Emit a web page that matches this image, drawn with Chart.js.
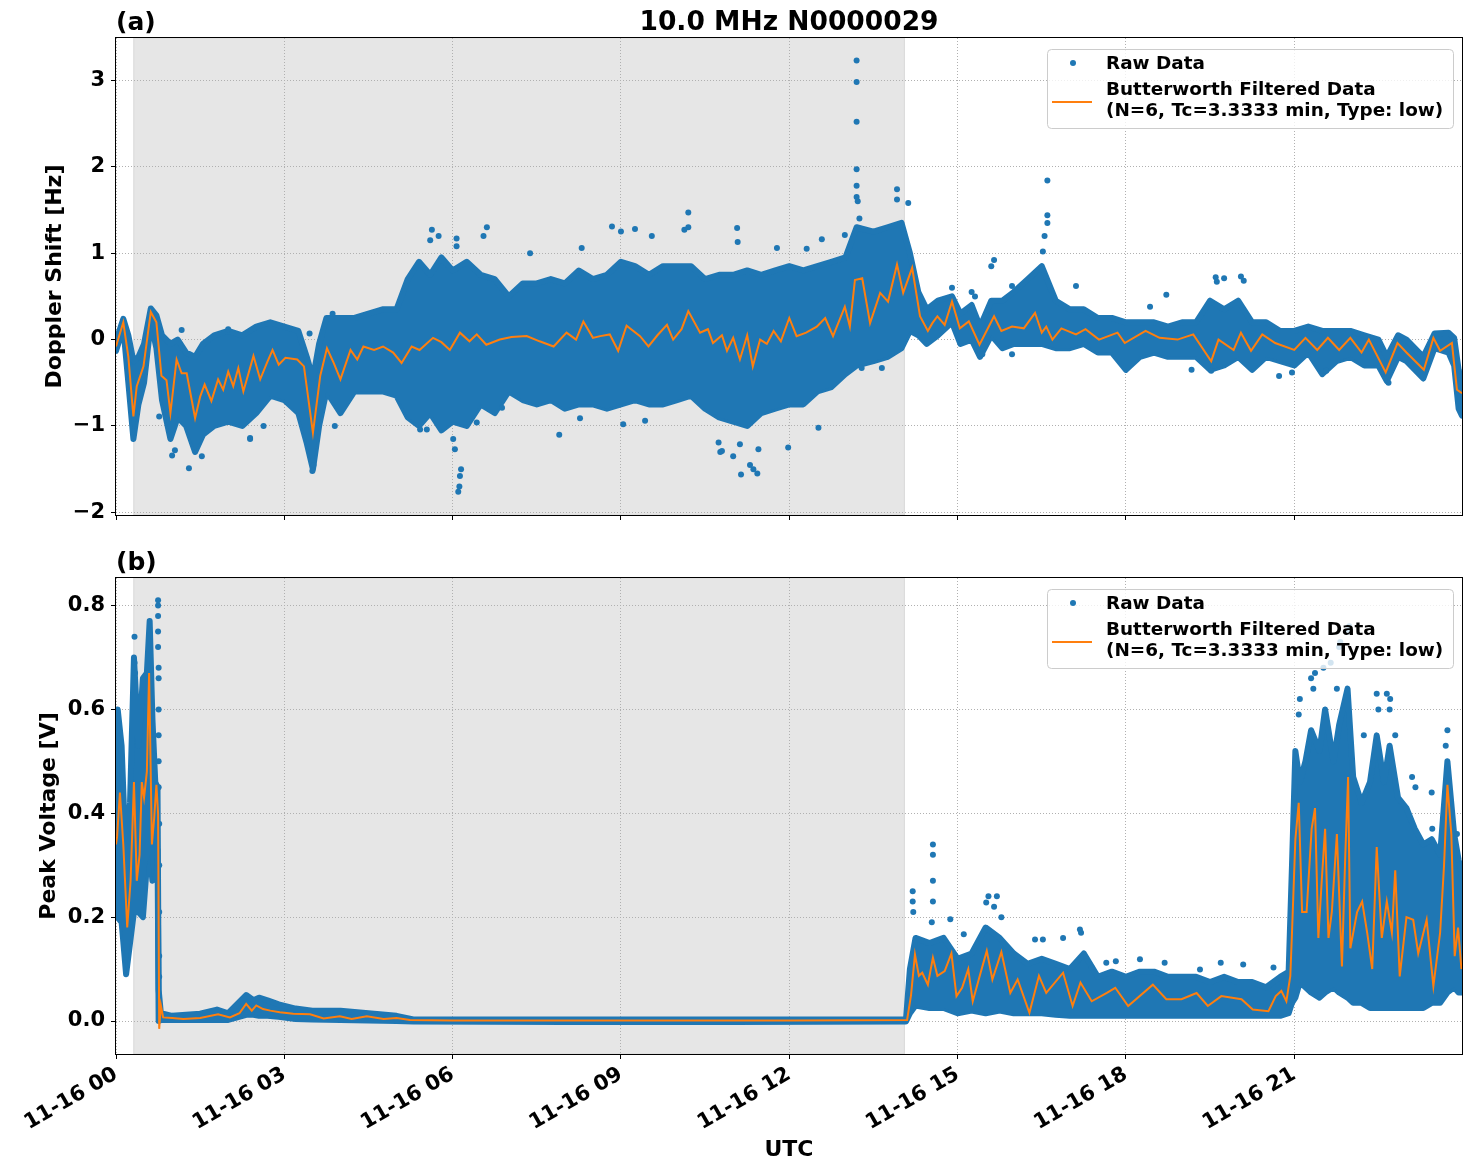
<!DOCTYPE html>
<html>
<head>
<meta charset="utf-8">
<title>10.0 MHz N0000029</title>
<script src="https://cdn.jsdelivr.net/npm/chart.js@4.4.1/dist/chart.umd.min.js"></script>
<style>
    html, body { margin: 0; padding: 0; background: #fff; }
    .panel { position: absolute; left: 0; }
    #panel-a { top: 0; }
    #panel-b { top: 540px; }
</style>
</head>
<body>
<div class="panel" id="panel-a"><canvas id="chart-a" width="1471" height="540"></canvas></div>
<div class="panel" id="panel-b"><canvas id="chart-b" width="1471" height="632"></canvas></div>
<script>
    'use strict';

    // ==========================================
    // DATA (hours after 11-16 00:00 UTC)
    // ==========================================
    const xTickHours = [0, 3, 6, 9, 12, 15, 18, 21];
    const xTickDay = '11-16';
    const shadeHours = [0.31, 14.06];

    // (a) Doppler shift
    const yTicksA = [-2, -1, 0, 1, 2, 3];
    const filtHoursA = [
        0.00, 0.13, 0.22, 0.31, 0.37, 0.49, 0.62, 0.72, 0.81, 0.90,
        0.97, 1.08, 1.17, 1.26, 1.41, 1.50, 1.58, 1.70, 1.82, 1.91,
        2.00, 2.09, 2.18, 2.27, 2.45, 2.57, 2.69, 2.79, 2.90, 3.02,
        3.23, 3.35, 3.51, 3.64, 3.76, 3.88, 4.00, 4.18, 4.30, 4.41,
        4.60, 4.76, 4.94, 5.09, 5.27, 5.41, 5.65, 5.80, 5.95, 6.13,
        6.30, 6.43, 6.60, 6.84, 7.05, 7.32, 7.55, 7.80, 8.03, 8.20,
        8.33, 8.50, 8.63, 8.80, 8.95, 9.10, 9.34, 9.49, 9.65, 9.82,
        9.93, 10.08, 10.20, 10.41, 10.55, 10.64, 10.80, 10.89, 11.00, 11.12,
        11.25, 11.35, 11.48, 11.60, 11.72, 11.85, 12.00, 12.13, 12.30, 12.49,
        12.64, 12.78, 12.99, 13.08, 13.17, 13.30, 13.44, 13.62, 13.76, 13.92,
        14.03, 14.19, 14.33, 14.47, 14.55, 14.64, 14.77, 14.90, 15.04, 15.20,
        15.39, 15.65, 15.78, 15.97, 16.18, 16.38, 16.50, 16.58, 16.69, 16.85,
        17.11, 17.28, 17.52, 17.85, 17.98, 18.35, 18.60, 18.92, 19.20, 19.52,
        19.65, 19.92, 20.05, 20.23, 20.43, 20.66, 21.00, 21.20, 21.41, 21.60,
        21.80, 22.00, 22.20, 22.33, 22.63, 22.84, 23.00, 23.31, 23.48, 23.60,
        23.81, 23.90, 23.99
    ];
    const filtA = [
        -0.08, 0.20, -0.20, -0.89, -0.54, -0.31, 0.32, 0.20, -0.42, -0.47,
        -0.85, -0.23, -0.39, -0.39, -0.91, -0.66, -0.52, -0.71, -0.46, -0.58,
        -0.37, -0.54, -0.33, -0.60, -0.19, -0.46, -0.27, -0.12, -0.29, -0.21,
        -0.23, -0.31, -1.08, -0.42, -0.10, -0.27, -0.46, -0.12, -0.23, -0.08,
        -0.12, -0.08, -0.15, -0.27, -0.08, -0.12, 0.02, -0.03, -0.12, 0.08,
        -0.02, 0.06, -0.06, 0.00, 0.03, 0.04, -0.02, -0.08, 0.08, 0.00,
        0.21, 0.02, 0.04, 0.06, -0.13, 0.16, 0.04, -0.08, 0.05, 0.17,
        0.00, 0.12, 0.33, 0.08, 0.12, -0.04, 0.05, -0.13, 0.02, -0.23,
        0.05, -0.31, 0.00, -0.05, 0.10, -0.02, 0.25, 0.04, 0.08, 0.15,
        0.25, 0.04, 0.38, 0.15, 0.69, 0.71, 0.19, 0.54, 0.44, 0.87,
        0.54, 0.83, 0.27, 0.10, 0.19, 0.27, 0.17, 0.44, 0.13, 0.21,
        -0.06, 0.27, 0.10, 0.15, 0.13, 0.31, 0.08, 0.15, 0.00, 0.13,
        0.06, 0.12, 0.00, 0.08, -0.04, 0.10, 0.02, 0.00, 0.06, -0.25,
        0.00, -0.12, 0.08, -0.13, 0.06, -0.04, -0.12, 0.02, -0.12, 0.02,
        -0.12, 0.02, -0.15, 0.00, -0.38, -0.04, -0.15, -0.35, 0.02, -0.13,
        -0.04, -0.58, -0.62
    ];
    // top / bottom edge of the dense raw-data cloud
    const bandHoursA = [
        0.00, 0.13, 0.22, 0.31, 0.40, 0.50, 0.62, 0.72, 0.82, 0.97,
        1.10, 1.25, 1.41, 1.55, 1.75, 2.00, 2.25, 2.50, 2.75, 3.00,
        3.25, 3.40, 3.51, 3.62, 3.75, 4.00, 4.25, 4.50, 4.75, 5.00,
        5.20, 5.40, 5.60, 5.80, 6.00, 6.25, 6.50, 6.75, 7.00, 7.25,
        7.50, 7.75, 8.00, 8.25, 8.50, 8.75, 9.00, 9.25, 9.50, 9.75,
        10.00, 10.25, 10.50, 10.75, 11.00, 11.25, 11.50, 11.75, 12.00, 12.25,
        12.50, 12.75, 13.00, 13.20, 13.50, 13.75, 14.00, 14.15, 14.30, 14.45,
        14.65, 14.90, 15.05, 15.25, 15.40, 15.60, 15.80, 16.00, 16.25, 16.50,
        16.75, 17.00, 17.25, 17.50, 17.75, 18.00, 18.25, 18.50, 18.75, 19.00,
        19.25, 19.50, 19.75, 20.00, 20.25, 20.50, 20.75, 21.00, 21.25, 21.50,
        21.75, 22.00, 22.25, 22.50, 22.65, 22.85, 23.00, 23.30, 23.50, 23.75,
        23.85, 23.93, 23.99
    ];
    const bandHiA = [
        -0.02, 0.24, 0.05, -0.25, -0.20, -0.05, 0.36, 0.28, 0.05, -0.05,
        0.00, -0.15, -0.20, -0.05, 0.05, 0.10, 0.05, 0.15, 0.20, 0.15,
        0.10, -0.20, -0.45, -0.05, 0.25, 0.25, 0.25, 0.30, 0.35, 0.35,
        0.70, 0.90, 0.75, 0.95, 0.80, 0.90, 0.75, 0.70, 0.50, 0.65,
        0.65, 0.70, 0.65, 0.80, 0.70, 0.75, 0.90, 0.85, 0.75, 0.85,
        0.85, 0.85, 0.70, 0.75, 0.75, 0.80, 0.75, 0.80, 0.85, 0.80,
        0.85, 0.90, 0.95, 1.30, 1.25, 1.30, 1.35, 1.00, 0.55, 0.35,
        0.45, 0.50, 0.30, 0.40, 0.15, 0.45, 0.45, 0.55, 0.70, 0.85,
        0.45, 0.35, 0.35, 0.25, 0.25, 0.20, 0.20, 0.20, 0.15, 0.20,
        0.20, 0.45, 0.35, 0.45, 0.20, 0.20, 0.10, 0.10, 0.15, 0.10,
        0.10, 0.10, 0.05, 0.00, -0.20, 0.05, 0.00, -0.20, 0.07, 0.08,
        0.02, -0.35, -0.50
    ];
    const bandLoA = [
        -0.13, 0.14, -0.50, -1.15, -0.75, -0.50, 0.20, -0.10, -0.70, -1.15,
        -0.90, -1.00, -1.30, -1.10, -1.00, -0.95, -1.00, -0.85, -0.65, -0.70,
        -0.85, -1.20, -1.50, -1.00, -0.60, -0.85, -0.60, -0.60, -0.60, -0.65,
        -0.90, -1.00, -0.85, -1.05, -0.95, -1.00, -0.75, -0.85, -0.60, -0.70,
        -0.75, -0.70, -0.80, -0.75, -0.75, -0.80, -0.75, -0.70, -0.75, -0.75,
        -0.70, -0.65, -0.80, -0.90, -0.95, -1.00, -0.85, -0.80, -0.75, -0.75,
        -0.60, -0.55, -0.40, -0.30, -0.25, -0.20, -0.10, 0.10, 0.05, -0.05,
        0.05, 0.20, -0.05, 0.00, -0.20, 0.05, -0.10, -0.05, -0.05, -0.05,
        -0.10, -0.10, -0.05, -0.15, -0.15, -0.35, -0.20, -0.15, -0.20, -0.20,
        -0.20, -0.35, -0.30, -0.20, -0.35, -0.20, -0.25, -0.30, -0.15, -0.40,
        -0.25, -0.20, -0.30, -0.30, -0.48, -0.20, -0.25, -0.45, -0.10, -0.15,
        -0.30, -0.80, -0.88
    ];
    // isolated raw points outside the cloud
    const strayHoursA = [
        13.20, 13.20, 13.20, 13.20, 13.20, 13.20, 13.22, 13.25, 13.92, 13.92,
        14.12, 16.60, 16.60, 16.60, 16.55, 1.30, 1.00, 1.05, 5.63, 5.60,
        5.75, 6.10, 6.12, 6.13, 6.15, 6.61, 6.55, 8.84, 9.00, 10.20,
        10.20, 11.07, 11.14, 11.43, 11.30, 11.00, 11.98, 10.77, 12.58, 3.50,
        3.52, 7.90, 10.80, 15.65, 15.60, 19.60, 19.62, 20.05, 20.10, 14.90,
        15.25, 6.07, 6.07, 7.38, 8.30, 9.25, 9.55, 10.13, 11.08, 11.78,
        12.31, 12.99, 5.42, 5.54, 6.01, 6.43, 6.88, 8.27, 9.04, 9.43,
        10.74, 11.12, 11.36, 11.45, 12.52, 13.29, 13.65, 0.77, 1.17, 2.00,
        2.39, 2.39, 3.45, 3.86, 3.90, 1.53, 2.63, 6.04, 15.31, 15.97,
        16.52, 17.11, 18.72, 18.43, 19.75, 15.97, 15.44, 19.17, 19.52, 20.73,
        20.96, 21.57, 22.68
    ];
    const strayA = [
        3.23, 2.98, 2.52, 1.97, 1.78, 1.65, 1.60, 1.40, 1.74, 1.62,
        1.58, 1.84, 1.44, 1.35, 1.20, -1.49, -1.34, -1.28, 1.27, 1.15,
        1.20, -1.76, -1.70, -1.58, -1.50, 1.30, 1.20, 1.31, 1.25, 1.47,
        1.30, 1.29, -1.56, -1.55, -1.45, -1.35, -1.25, -1.30, 1.16, -1.52,
        -1.45, -1.10, -1.29, 0.92, 0.85, 0.72, 0.67, 0.73, 0.68, 0.60,
        0.55, 1.17, 1.08, 1.00, 1.06, 1.28, 1.20, 1.27, 1.13, 1.06,
        1.05, 1.21, -1.04, -1.04, -1.15, -0.96, -0.79, -0.91, -0.98, -0.94,
        -1.19, -1.21, -1.50, -1.27, -1.02, -0.33, -0.33, -0.89, 0.11, 0.12,
        -1.14, -1.15, 0.07, 0.30, -1.00, -1.35, -1.00, -1.27, 0.50, 0.62,
        1.02, 0.62, 0.52, 0.38, 0.71, -0.17, -0.17, -0.35, -0.36, -0.42,
        -0.38, -0.36, -0.50
    ];

    // (b) Peak voltage
    const yTicksB = [0.0, 0.2, 0.4, 0.6, 0.8];
    const filtHoursB = [
        0.00, 0.02, 0.07, 0.13, 0.20, 0.26, 0.32, 0.37, 0.42, 0.46,
        0.50, 0.55, 0.59, 0.64, 0.68, 0.72, 0.75, 0.77, 0.80, 0.84,
        1.00, 1.20, 1.50, 1.82, 2.03, 2.20, 2.32, 2.42, 2.50, 2.62,
        2.75, 2.92, 3.16, 3.46, 3.70, 3.99, 4.20, 4.47, 4.77, 5.00,
        5.24, 6.00, 8.00, 10.00, 12.00, 14.10, 14.17, 14.24, 14.31, 14.37,
        14.47, 14.56, 14.64, 14.77, 14.89, 14.98, 15.08, 15.19, 15.27, 15.41,
        15.52, 15.62, 15.78, 15.94, 16.07, 16.28, 16.45, 16.58, 16.88, 17.05,
        17.19, 17.39, 17.66, 17.81, 18.04, 18.48, 18.72, 18.99, 19.26, 19.46,
        19.70, 20.06, 20.26, 20.54, 20.67, 20.77, 20.86, 20.93, 20.96, 21.02,
        21.08, 21.14, 21.22, 21.31, 21.37, 21.43, 21.49, 21.55, 21.61, 21.67,
        21.76, 21.85, 21.91, 21.96, 22.00, 22.12, 22.21, 22.30, 22.39, 22.47,
        22.56, 22.65, 22.74, 22.80, 22.88, 23.00, 23.12, 23.21, 23.36, 23.48,
        23.60, 23.67, 23.73, 23.80, 23.86, 23.92, 23.98
    ];
    const filtB = [
        0.34, 0.356, 0.44, 0.34, 0.18, 0.27, 0.46, 0.27, 0.32, 0.46,
        0.43, 0.48, 0.67, 0.34, 0.39, 0.455, 0.40, -0.015, 0.03, 0.007,
        0.006, 0.004, 0.006, 0.013, 0.007, 0.015, 0.033, 0.02, 0.03, 0.023,
        0.02, 0.017, 0.014, 0.013, 0.005, 0.009, 0.004, 0.009, 0.004, 0.006,
        0.002, 0.001, 0.001, 0.001, 0.001, 0.002, 0.05, 0.128, 0.087, 0.093,
        0.07, 0.122, 0.087, 0.096, 0.13, 0.048, 0.064, 0.10, 0.038, 0.093,
        0.135, 0.08, 0.133, 0.054, 0.08, 0.016, 0.087, 0.054, 0.093, 0.029,
        0.074, 0.038, 0.054, 0.064, 0.029, 0.07, 0.042, 0.042, 0.054, 0.029,
        0.048, 0.042, 0.022, 0.019, 0.048, 0.058, 0.038, 0.087, 0.17, 0.35,
        0.42, 0.21, 0.21, 0.37, 0.41, 0.16, 0.27, 0.37, 0.16, 0.21,
        0.36, 0.105, 0.32, 0.47, 0.14, 0.21, 0.23, 0.17, 0.10, 0.335,
        0.16, 0.23, 0.17, 0.29, 0.086, 0.20, 0.195, 0.13, 0.195, 0.067,
        0.17, 0.30, 0.455, 0.36, 0.125, 0.18, 0.10
    ];
    const bandHoursB = [
        0.00, 0.03, 0.10, 0.18, 0.25, 0.32, 0.40, 0.48, 0.55, 0.60,
        0.65, 0.70, 0.74, 0.76, 0.80, 1.00, 1.50, 1.80, 2.00, 2.32,
        2.45, 2.55, 2.70, 2.90, 3.20, 3.50, 4.00, 4.50, 5.00, 5.30,
        8.00, 11.00, 14.08, 14.15, 14.25, 14.50, 14.75, 15.00, 15.25, 15.50,
        15.75, 16.00, 16.25, 16.50, 16.75, 17.00, 17.25, 17.50, 17.75, 18.00,
        18.25, 18.50, 18.75, 19.00, 19.25, 19.50, 19.75, 20.00, 20.25, 20.50,
        20.75, 20.90, 20.96, 21.02, 21.10, 21.20, 21.30, 21.45, 21.55, 21.70,
        21.80, 21.95, 22.05, 22.20, 22.35, 22.47, 22.60, 22.70, 22.85, 23.00,
        23.15, 23.30, 23.45, 23.60, 23.73, 23.85, 23.93, 23.99
    ];
    const bandHiB = [
        0.55, 0.60, 0.53, 0.30, 0.42, 0.70, 0.53, 0.66, 0.67, 0.77,
        0.58, 0.46, 0.45, 0.06, 0.015, 0.010, 0.014, 0.022, 0.015, 0.050,
        0.040, 0.045, 0.040, 0.032, 0.024, 0.020, 0.020, 0.015, 0.010, 0.003,
        0.003, 0.003, 0.003, 0.10, 0.16, 0.15, 0.16, 0.12, 0.13, 0.18,
        0.16, 0.13, 0.11, 0.12, 0.11, 0.10, 0.13, 0.085, 0.095, 0.085,
        0.095, 0.095, 0.085, 0.085, 0.085, 0.075, 0.085, 0.075, 0.075, 0.065,
        0.085, 0.095, 0.30, 0.52, 0.46, 0.50, 0.56, 0.52, 0.60, 0.50,
        0.57, 0.64, 0.47, 0.42, 0.46, 0.55, 0.46, 0.53, 0.43, 0.41,
        0.37, 0.34, 0.35, 0.32, 0.50, 0.36, 0.31, 0.28
    ];
    const bandLoB = [
        0.22, 0.20, 0.19, 0.09, 0.15, 0.21, 0.21, 0.20, 0.30, 0.32,
        0.27, 0.32, 0.33, 0.00, 0.002, 0.002, 0.002, 0.002, 0.002, 0.012,
        0.012, 0.010, 0.010, 0.008, 0.004, 0.003, 0.002, 0.001, 0.000, -0.001,
        -0.002, -0.002, -0.001, 0.015, 0.03, 0.025, 0.025, 0.015, 0.02, 0.015,
        0.02, 0.015, 0.015, 0.015, 0.012, 0.01, 0.01, 0.01, 0.01, 0.01,
        0.01, 0.01, 0.01, 0.01, 0.01, 0.01, 0.01, 0.01, 0.01, 0.01,
        0.01, 0.015, 0.035, 0.045, 0.075, 0.065, 0.055, 0.045, 0.055, 0.065,
        0.055, 0.045, 0.035, 0.035, 0.025, 0.025, 0.025, 0.025, 0.025, 0.025,
        0.025, 0.025, 0.035, 0.035, 0.055, 0.065, 0.055, 0.055
    ];
    const strayHoursB = [
        0.33, 0.33, 0.34, 0.75, 0.75, 0.75, 0.75, 0.75, 0.76, 0.76,
        0.76, 0.76, 0.76, 0.76, 0.77, 0.77, 0.77, 0.77, 0.77, 14.20,
        14.20, 14.56, 14.56, 14.56, 14.56, 15.55, 15.70, 17.20, 21.10, 21.30,
        21.34, 21.80, 21.82, 21.96, 21.98, 21.65, 22.47, 22.50, 22.65, 22.70,
        22.80, 23.10, 23.16, 23.73, 23.70, 23.45, 23.90, 14.21, 14.54, 14.87,
        15.11, 15.51, 15.65, 15.78, 16.38, 16.52, 16.88, 17.18, 17.39, 17.65,
        17.82, 18.25, 18.69, 19.32, 19.69, 20.09, 20.63, 21.08, 21.37, 21.52,
        21.76, 22.24, 22.71, 23.46
    ];
    const strayB = [
        0.74, 0.69, 0.67, 0.81, 0.80, 0.78, 0.75, 0.72, 0.68, 0.66,
        0.60, 0.55, 0.50, 0.45, 0.38, 0.30, 0.21, 0.125, 0.085, 0.25,
        0.23, 0.34, 0.32, 0.27, 0.23, 0.24, 0.24, 0.17, 0.62, 0.66,
        0.64, 0.72, 0.73, 0.75, 0.76, 0.69, 0.63, 0.60, 0.63, 0.60,
        0.55, 0.47, 0.45, 0.56, 0.53, 0.44, 0.36, 0.21, 0.19, 0.196,
        0.167, 0.228, 0.22, 0.20, 0.157, 0.157, 0.16, 0.176, 0.103, 0.112,
        0.115, 0.119, 0.112, 0.099, 0.112, 0.109, 0.103, 0.59, 0.67, 0.68,
        0.64, 0.55, 0.62, 0.37
    ];

    const legendNames = ['Raw Data', 'Butterworth Filtered Data'];
    const filterNote = '(N=6, Tc=3.3333 min, Type: low)';

    // ==========================================
    // STYLE
    // ==========================================
    const BLUE = '#1f77b4';
    const ORANGE = '#ff7f0e';
    const FONT = "'DejaVu Sans', sans-serif";
    const GRID = '#b0b0b0';

    const pts = (xs, ys) => xs.map((x, i) => ({ x: x, y: ys[i] }));
    const pad2 = v => (v < 10 ? '0' : '') + v;

    // ==========================================
    // DECORATION: shading, frame, titles, legend
    // ==========================================
    function decoPlugin(p) {
        return {
            id: 'deco',
            beforeDraw: function(chart) {
                const ctx = chart.ctx, a = chart.chartArea, x = chart.scales.x;
                ctx.save();
                ctx.fillStyle = '#fff';
                ctx.fillRect(0, 0, chart.width, chart.height);
                const x0 = x.getPixelForValue(shadeHours[0]);
                const x1 = x.getPixelForValue(shadeHours[1]);
                ctx.fillStyle = '#e6e6e6';
                ctx.fillRect(x0, a.top, x1 - x0, a.bottom - a.top);
                ctx.strokeStyle = '#dadada';
                ctx.lineWidth = 1;
                ctx.strokeRect(x0 + 0.5, a.top, x1 - x0 - 1, a.bottom - a.top);
                ctx.restore();
            },
            afterDraw: function(chart) {
                const ctx = chart.ctx, a = chart.chartArea;
                ctx.save();

                // frame
                ctx.strokeStyle = '#000';
                ctx.lineWidth = 1;
                ctx.strokeRect(Math.round(a.left) - 0.5, Math.round(a.top) - 0.5,
                    Math.round(a.right - a.left) + 1, Math.round(a.bottom - a.top) + 1);

                // panel tag and title
                ctx.fillStyle = '#000';
                ctx.textBaseline = 'alphabetic';
                ctx.textAlign = 'left';
                ctx.font = 'bold 25px ' + FONT;
                ctx.fillText(p.tag, a.left, a.top - 8);
                if (p.title) {
                    ctx.font = 'bold 26.5px ' + FONT;
                    ctx.textAlign = 'center';
                    ctx.fillText(p.title, (a.left + a.right) / 2, a.top - 8);
                }

                // axis titles
                ctx.font = 'bold 22px ' + FONT;
                ctx.textAlign = 'center';
                ctx.textBaseline = 'middle';
                ctx.save();
                ctx.translate(p.yTitleX, (a.top + a.bottom) / 2);
                ctx.rotate(-Math.PI / 2);
                ctx.fillText(p.yTitle, 0, 0);
                ctx.restore();
                if (p.xTitle) ctx.fillText(p.xTitle, (a.left + a.right) / 2, p.xTitleY);

                // legend
                const R = a.right, T = a.top;
                const bx = R - 415, by = T + 11, bw = 406, bh = 79;
                ctx.beginPath();
                ctx.roundRect(bx + 0.5, by + 0.5, bw, bh, 4);
                ctx.fillStyle = 'rgba(255,255,255,0.8)';
                ctx.fill();
                ctx.strokeStyle = '#cccccc';
                ctx.lineWidth = 1;
                ctx.stroke();

                ctx.beginPath();
                ctx.arc(R - 389, T + 25, 3, 0, Math.PI * 2);
                ctx.fillStyle = BLUE;
                ctx.fill();

                ctx.beginPath();
                ctx.moveTo(R - 410, T + 64);
                ctx.lineTo(R - 370, T + 64);
                ctx.strokeStyle = ORANGE;
                ctx.lineWidth = 2;
                ctx.stroke();

                ctx.fillStyle = '#000';
                ctx.font = 'bold 18.4px ' + FONT;
                ctx.textAlign = 'left';
                ctx.textBaseline = 'alphabetic';
                ctx.fillText(legendNames[0], R - 356, T + 31);
                ctx.fillText(legendNames[1], R - 356, T + 57);
                ctx.fillText(filterNote, R - 356, T + 78);

                ctx.restore();
            }
        };
    }

    // ==========================================
    // PANEL BUILDER
    // ==========================================
    function buildPanel(canvasId, p) {
        const lineBand = {
            borderColor: BLUE, borderWidth: 6, borderJoinStyle: 'round', borderCapStyle: 'round',
            pointRadius: 0, tension: 0, order: 3
        };
        const tickFont = { family: FONT, size: 21, weight: 'bold' };
        return new Chart(document.getElementById(canvasId), {
            type: 'line',
            data: {
                datasets: [
                    {
                        label: legendNames[0], data: pts(p.strayHours, p.stray), showLine: false,
                        pointRadius: 3, pointBackgroundColor: BLUE, pointBorderWidth: 0, borderColor: BLUE, order: 2
                    },
                    {
                        label: legendNames[1], data: pts(p.filtHours, p.filt), borderColor: ORANGE,
                        borderWidth: 2, pointRadius: 0, tension: 0, order: 1
                    },
                    Object.assign({ label: 'band top', data: pts(p.bandHours, p.hi), fill: '+1', backgroundColor: BLUE }, lineBand),
                    Object.assign({ label: 'band bottom', data: pts(p.bandHours, p.lo), fill: false }, lineBand)
                ]
            },
            options: {
                responsive: false,
                animation: false,
                events: [],
                layout: { padding: { top: 38, right: 9, left: 0, bottom: 0 } },
                plugins: { legend: { display: false }, tooltip: { enabled: false } },
                scales: {
                    x: {
                        type: 'linear', min: 0, max: 23.99,
                        afterBuildTicks: s => { s.ticks = xTickHours.map(v => ({ value: v })); },
                        afterFit: s => { s.height = p.xAxisHeight; },
                        ticks: {
                            callback: v => p.xLabels ? xTickDay + ' ' + pad2(v) : '',
                            autoSkip: false, minRotation: 30, maxRotation: 30, padding: 3,
                            color: '#000', font: tickFont
                        },
                        grid: { color: GRID, lineWidth: 1, tickLength: 5, tickColor: '#000', tickWidth: 1 },
                        border: { display: false, dash: [1, 2] }
                    },
                    y: {
                        min: p.yMin, max: p.yMax,
                        afterBuildTicks: s => { s.ticks = p.yTicks.map(v => ({ value: v })); },
                        afterFit: s => { s.width = 116; },
                        ticks: { callback: p.yFmt, padding: 6, color: '#000', font: tickFont },
                        grid: { color: GRID, lineWidth: 1, tickLength: 5, tickColor: '#000', tickWidth: 1 },
                        border: { display: false, dash: [1, 2] }
                    }
                }
            },
            plugins: [decoPlugin(p)]
        });
    }

    buildPanel('chart-a', {
        tag: '(a)', title: '10.0 MHz N0000029',
        yTitle: 'Doppler Shift [Hz]', yTitleX: 55,
        yMin: -2.03, yMax: 3.49, yTicks: yTicksA,
        yFmt: v => (v < 0 ? '\u2212' + Math.abs(v) : String(v)),
        xLabels: false, xAxisHeight: 25,
        filtHours: filtHoursA, filt: filtA,
        bandHours: bandHoursA, hi: bandHiA, lo: bandLoA,
        strayHours: strayHoursA, stray: strayA
    });

    buildPanel('chart-b', {
        tag: '(b)', title: '',
        yTitle: 'Peak Voltage [V]', yTitleX: 49,
        xTitle: 'UTC', xTitleY: 610,
        yMin: -0.0635, yMax: 0.853, yTicks: yTicksB,
        yFmt: v => v.toFixed(1),
        xLabels: true, xAxisHeight: 118,
        filtHours: filtHoursB, filt: filtB,
        bandHours: bandHoursB, hi: bandHiB, lo: bandLoB,
        strayHours: strayHoursB, stray: strayB
    });
</script>
</body>
</html>
